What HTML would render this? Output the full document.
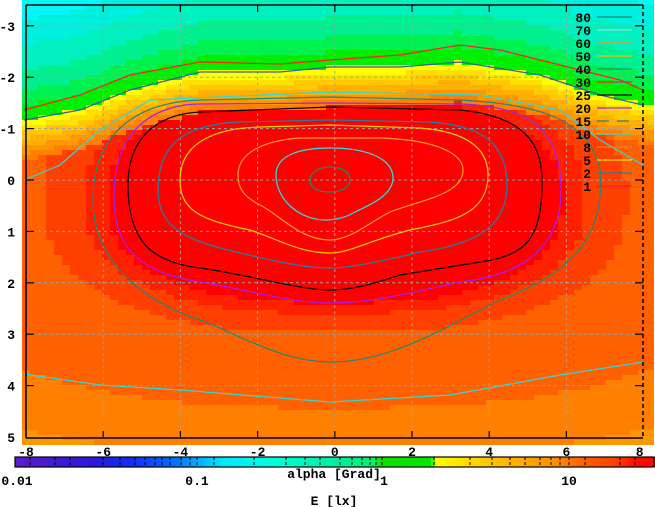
<!DOCTYPE html>
<html><head><meta charset="utf-8"><style>
html,body{margin:0;padding:0;background:#fff;width:655px;height:507px;overflow:hidden}
svg{display:block}
text{font-family:"Liberation Mono","DejaVu Sans Mono",monospace;font-weight:bold;font-size:13px;fill:#000}
</style></head><body>
<svg id="s" width="655" height="507" viewBox="0 0 655 507" xmlns="http://www.w3.org/2000/svg">
<g id="bg"></g>
<g id="grid" stroke="#a0a0a0" stroke-width="1" stroke-dasharray="3,3" fill="none"></g>
<g fill="none" stroke-width="1.2">
<path d="M24,110 L80,95 L130,75 L200,62 L280,64 L330,60 L400,55 L460,45 L500,50 L560,65 L620,80 L643,90" stroke="#ff2020"/>
<path d="M24,120 L80,110 L130,90 L200,72 L280,72 L330,67 L400,67 L460,62 L540,75 L600,95 L643,105" stroke="#3060a0"/>
<path d="M24,180 L60,165 L100,130 L150,100 L330,92 L480,95 L560,110 L600,140 L643,165" stroke="#30d8d8"/>
<path d="M24,374 L100,385 L180,390 L330,402 L450,395 L560,375 L643,362" stroke="#30d8d8"/>
<path d="M93,200 C93,130 140,102 200,100 L330,97 L460,100 C540,104 590,120 600,170 C605,230 580,270 500,300 C440,330 390,362 330,362 C280,362 230,330 200,320 C140,300 93,260 93,200Z" stroke="#208a70"/>
<path d="M114,195 C114,125 160,104 200,104 L330,103 L460,104 C530,106 561,130 561,190 C561,250 520,275 460,282 C400,295 370,303 330,303 C290,303 250,290 200,282 C140,272 114,250 114,195Z" stroke="#a020f0"/>
<path d="M128,185 C128,135 160,114 200,112 L330,107 L460,110 C520,116 542,140 542,180 C542,235 530,255 480,262 L400,275 C370,285 350,290 330,290 C300,290 250,275 200,268 C150,262 128,240 128,185Z" stroke="#000"/>
<path d="M158,190 C158,140 190,124 240,122 L330,120 L430,122 C490,126 507,150 507,185 C507,230 470,245 420,252 C380,262 350,268 330,268 C300,268 260,258 220,248 C175,236 158,220 158,190Z" stroke="#2080a0"/>
<path d="M180,180 C180,140 220,128 260,127 L330,125 L420,128 C470,132 488,150 488,175 C488,215 450,222 410,230 C370,240 350,253 330,253 C300,253 280,240 250,230 C200,220 180,210 180,180Z" stroke="#f0d000"/>
<path d="M238,175 C238,150 270,140 300,138 L380,138 C440,140 463,155 463,170 C463,195 420,200 390,212 C370,222 350,240 330,240 C300,240 280,215 260,205 C245,197 238,190 238,175Z" stroke="#ffa020"/>
<path d="M276,175 C276,155 300,148 330,148 C370,148 393,160 393,178 C393,195 370,205 355,212 C345,218 335,220 325,220 C300,220 276,200 276,175Z" stroke="#30e0e0"/>
<path d="M310,180 C310,172 320,167 330,167 C342,167 350,172 350,180 C350,188 340,192 330,192 C318,192 310,188 310,180Z" stroke="#208a70"/>
</g>
<g id="frame" stroke="#000" stroke-width="1.5" fill="none">
<line x1="26" y1="5" x2="26" y2="438"/>
<line x1="26" y1="438" x2="643" y2="438"/>
<line x1="26" y1="5" x2="643" y2="5"/>
<line x1="643" y1="5" x2="643" y2="438" stroke-dasharray="4,3"/>
</g>
<g id="ticks" stroke="#000" stroke-width="1.2"></g>
<g id="ylab"></g>
<g id="legend"></g>
<g id="cb"></g>
<rect x="15" y="457" width="639" height="10" fill="none" stroke="#000" stroke-width="1.2"/>
<g id="cbt" stroke="#000" stroke-width="1"></g>
<g id="cblab"></g>
<text x="17" y="485" text-anchor="middle">0.01</text>
<text x="197" y="485" text-anchor="middle">0.1</text>
<text x="384" y="485" text-anchor="middle">1</text>
<text x="569" y="485" text-anchor="middle">10</text>
<text x="334" y="478" text-anchor="middle">alpha [Grad]</text>
<text x="334" y="505" text-anchor="middle">E [lx]</text>
</svg>
<script>
const NS="http://www.w3.org/2000/svg";
function el(p,t,a,txt){const e=document.createElementNS(NS,t);for(const k in a)e.setAttribute(k,a[k]);if(txt!==undefined)e.textContent=txt;p.appendChild(e);return e;}
function interp(pts,x){for(let i=0;i<pts.length-1;i++){if(x<=pts[i+1][0]){const t=(x-pts[i][0])/(pts[i+1][0]-pts[i][0]);return pts[i][1]+t*(pts[i+1][1]-pts[i][1]);}}return pts[pts.length-1][1];}
const yb=[[0,122],[24,120],[80,110],[130,90],[200,72],[280,72],[330,67],[400,67],[460,62],[540,75],[600,95],[660,107]];
const warm=["#ffff00","#ffe000","#ffc800","#ffb000","#ff9800","#ff8000","#ff6000","#ff4000","#ff2000","#ff0000"];
const bg=document.getElementById("bg");
const cw=8,ch=5;
for(let py=0;py<442;py+=ch){for(let px=22;px<650;px+=cw){
 const cx=px+cw/2,cy=py+ch/2;const b=interp(yb,cx);let c;
 if(cy<b){const t=b-cy;c=t<15?"#00ee00":t<30?"#00f050":t<50?"#00f090":t<75?"#00f0c0":t<100?"#00f0e0":"#00f8f8";}
 else{const s=cy-b;let i1=s<6?0:s<12?1:s<19?2:s<26?3:s<33?4:s<40?5:9;
  const dx=Math.abs(cx-335)/228,dy=Math.abs(cy-198)/(cy<198?100:105);
  const d=Math.pow(Math.pow(dx,2.5)+Math.pow(dy,2.5),1/2.5);
  let i2=d<1.0?9:d<1.1?8:d<1.28?7:d<2.0?6:d<2.45?5:d<2.9?4:3;
  c=warm[Math.min(i1,i2)];}
 el(bg,"rect",{x:px,y:py,width:cw,height:ch,fill:c});}}
const g=document.getElementById("grid"),tk=document.getElementById("ticks"),yl=document.getElementById("ylab");
const X=v=>26+(v+8)*38.6, Y=v=>180+v*51.4;
for(let v=-6;v<=6;v+=2){el(g,"line",{x1:X(v),y1:5,x2:X(v),y2:438});el(tk,"line",{x1:X(v),y1:438,x2:X(v),y2:431});el(tk,"line",{x1:X(v),y1:5,x2:X(v),y2:12});}
for(let v=-3;v<=4;v++){el(g,"line",{x1:26,y1:Y(v),x2:643,y2:Y(v)});el(tk,"line",{x1:26,y1:Y(v),x2:34,y2:Y(v)});el(tk,"line",{x1:643,y1:Y(v),x2:635,y2:Y(v)});}
for(let v=-3;v<=5;v++){el(yl,"text",{x:15,y:Y(v)+5,"text-anchor":"end"},String(v));}
const L=[["80","#208a70"],["70","#90e0e0"],["60","#ff9020"],["50","#ffb000"],["40","#208a70"],["30","#ff2020"],["25","#000"],["20","#a020f0"],["15","#208a70"],["10","#30d8d8"],["8","#ff8030"],["5","#f0e000"],["2","#2080a0"],["1","#ff2020"]];
const lg=document.getElementById("legend");
L.forEach((e,i)=>{const y=17+i*13;el(lg,"text",{x:591,y:y+5,"text-anchor":"end"},e[0]);
 const a={x1:597,y1:y,x2:632,y2:y,stroke:e[1],"stroke-width":1.3};if(e[0]=="15")a["stroke-dasharray"]="12,8";el(lg,"line",a);});
const cb=document.getElementById("cb");
const st=[[-8,"#5a1ec8"],[-6,"#2818e0"],[-5,"#1030f8"],[-4,"#0070ff"],[-3.4,"#00b0ff"],[-2.8,"#00e8ff"],[-1.5,"#00ffd8"],[0,"#00f0a0"],[1,"#00f070"],[1.1,"#10e000"],[2.45,"#00e800"],[2.5,"#ffff00"],[3.5,"#ffd400"],[4.5,"#ffb000"],[5.5,"#ff9000"],[6.2,"#ff6000"],[7,"#ff4000"],[7.5,"#ff1000"],[8,"#ff0000"]];
function hx(c){return[parseInt(c.substr(1,2),16),parseInt(c.substr(3,2),16),parseInt(c.substr(5,2),16)];}
for(let x=15;x<654;x+=4){const v=-8+(x+2-15)/639*16;let k=0;while(k<st.length-2&&v>st[k+1][0])k++;
 const a=hx(st[k][1]),b=hx(st[k+1][1]);let t=(v-st[k][0])/(st[k+1][0]-st[k][0]);t=Math.max(0,Math.min(1,t));
 const c=a.map((q,i)=>Math.round(q+(b[i]-q)*t));el(cb,"rect",{x:x,y:457,width:4,height:10,fill:`rgb(${c})`});}
const cbt=document.getElementById("cbt");
[30,55,70,103,120,135,145,155,162,170,181,190,197,214,254,286,305,320,340,352,362,370,376,382,434,470,492,510,525,540,551,560,569,585,620,635].forEach(x=>{el(cbt,"line",{x1:x,y1:457,x2:x,y2:467,"stroke-dasharray":"3,2"});});
const cl=document.getElementById("cblab");
for(let v=-8;v<=8;v+=2){el(cl,"text",{x:X(v)-(v==8?4:0),y:456,"text-anchor":"middle"},String(v));}
</script>
</body></html>
